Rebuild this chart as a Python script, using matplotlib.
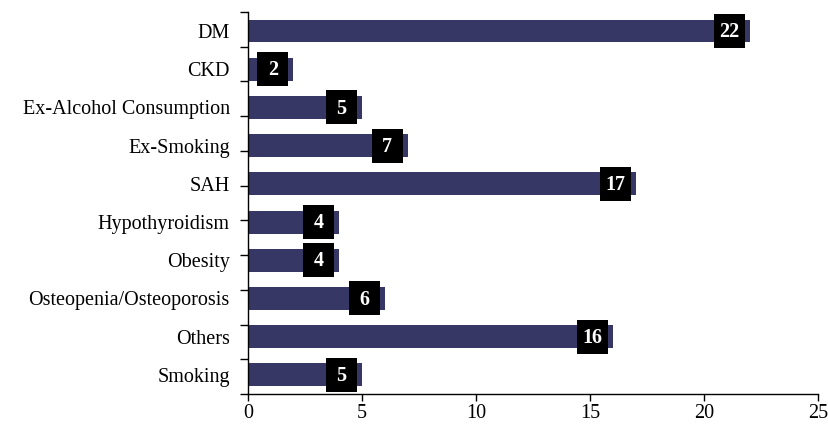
import numpy as np
import matplotlib
matplotlib.use("Agg")
from matplotlib import pyplot as plt

# Data (top to bottom)
categories = ["DM", "CKD", "Ex-Alcohol Consumption", "Ex-Smoking", "SAH",
              "Hypothyroidism", "Obesity", "Osteopenia/Osteoporosis",
              "Others", "Smoking"]
counts = [22, 2, 5, 7, 17, 4, 4, 6, 16, 5]
xticks = [0, 5, 10, 15, 20, 25]

barColor = "#373765"
plt.rcParams["font.family"] = ["Liberation Serif", "DejaVu Serif"]

fig = plt.figure(figsize=(8.29, 4.25), dpi=100)
ax = fig.add_axes([0.299, 0.073, 0.688, 0.899])

pos = np.arange(len(categories))[::-1]
ax.barh(pos, counts, height=0.6, color=barColor)

# Black value boxes near the end of each bar
boxW = 1.36
boxCenter = np.array(counts) - 0.9
ax.barh(pos, boxW, left=boxCenter - boxW/2, height=0.89, color="black")
for p, c, x in zip(pos, counts, boxCenter):
    ax.text(x, p - 0.03, str(c), color="white", fontsize=14.5,
            fontweight="bold", ha="center", va="center")

ax.set_xlim(0, 25)
ax.set_ylim(-0.5, len(categories) - 0.5)
ax.set_xticks(xticks)
ax.set_xticklabels([str(t) for t in xticks], fontsize=14.5)

# Major y ticks: 11 equal intervals without labels; category names as minor ticks
ax.set_yticks(np.linspace(-0.5, len(categories) - 0.5, 12))
ax.set_yticklabels([])
ax.set_yticks(pos, minor=True)
ax.set_yticklabels(categories, minor=True, fontsize=14.5)
ax.tick_params(axis="y", which="minor", length=0, pad=13)
ax.tick_params(axis="y", which="major", length=6, width=1)
ax.tick_params(axis="x", length=5, width=1, pad=2)

for s in ["top", "right"]:
    ax.spines[s].set_visible(False)
for s in ["left", "bottom"]:
    ax.spines[s].set_linewidth(1)

fig.savefig("out.png", dpi=100)
